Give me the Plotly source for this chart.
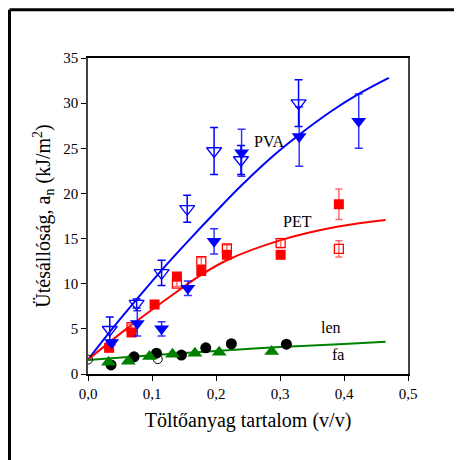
import plotly.graph_objects as go

# ---------------- data ----------------
# PVA, open down-triangles
pva_open_x = [0.034, 0.076, 0.115, 0.155, 0.197, 0.239, 0.329]
pva_open_y = [4.9, 7.8, 11.2, 18.3, 24.7, 23.7, 30.0]
pva_open_err = [1.4, 0.5, 1.4, 1.5, 2.6, 1.6, 2.6]
# PVA, filled down-triangles
pva_fill_x = [0.037, 0.077, 0.115, 0.156, 0.197, 0.240, 0.330, 0.423]
pva_fill_y = [3.5, 5.6, 5.0, 9.5, 14.7, 24.5, 26.3, 28.0]
pva_fill_err = [0.3, 1.4, 0.8, 0.8, 1.4, 2.6, 3.3, 3.0]
# PET, filled squares
pet_fill_x = [0.033, 0.068, 0.104, 0.139, 0.177, 0.217, 0.301, 0.392]
pet_fill_y = [2.9, 4.6, 7.7, 10.8, 11.4, 13.2, 13.2, 18.8]
pet_fill_err = [0.3, 0.3, 0.3, 0.3, 0.3, 0.3, 0.3, 1.7]
# PET, open squares
pet_open_x = [0.068, 0.139, 0.177, 0.217, 0.301, 0.392]
pet_open_y = [5.2, 10.0, 12.5, 13.9, 14.5, 13.85]
pet_open_err = [0.3, 0.3, 0.4, 0.4, 0.5, 0.9]
# black circles (filled)
circ_x = [0.036, 0.072, 0.107, 0.146, 0.184, 0.224, 0.310]
circ_y = [1.0, 1.9, 2.3, 2.1, 2.9, 3.35, 3.3]
# open black circles
ocirc_x = [0.0, 0.109]
ocirc_y = [1.6, 1.65]
# green up-triangles
tri_x = [0.032, 0.063, 0.096, 0.132, 0.167, 0.205, 0.287]
tri_y = [1.3, 1.4, 1.95, 2.2, 2.3, 2.4, 2.5]

# fitted curves
fit_pva_x = [0.0, 0.04, 0.08, 0.12, 0.16, 0.20, 0.24, 0.29, 0.33, 0.38, 0.425, 0.47]
fit_pva_y = [1.6, 5.2, 8.6, 11.9, 15.0, 18.0, 20.9, 24.2, 26.5, 29.1, 31.1, 32.8]
fit_pet_x = [0.0, 0.06, 0.123, 0.175, 0.217, 0.30, 0.389, 0.465]
fit_pet_y = [1.6, 5.0, 8.3, 10.9, 12.6, 14.8, 16.3, 17.05]
fit_green_x = [0.0, 0.1, 0.2, 0.3, 0.4, 0.465]
fit_green_y = [1.56, 2.08, 2.56, 2.98, 3.33, 3.58]

labels = ["PVA", "PET", "len", "fa"]
label_x = [0.283, 0.328, 0.380, 0.390]
label_y = [25.8, 16.9, 5.1, 2.2]

x_tick_vals = [0.0, 0.1, 0.2, 0.3, 0.4, 0.5]
y_tick_vals = [0, 5, 10, 15, 20, 25, 30, 35]

FONT = "Liberation Serif, Times New Roman, serif"
BLUE = "#0000ff"
RED = "#ff0000"
GREEN = "#008000"

fig = go.Figure()

# fit lines
fig.add_trace(go.Scatter(x=fit_pva_x, y=fit_pva_y, mode="lines",
                         line=dict(color=BLUE, width=2, shape="spline")))
fig.add_trace(go.Scatter(x=fit_pet_x, y=fit_pet_y, mode="lines",
                         line=dict(color=RED, width=2, shape="spline")))
fig.add_trace(go.Scatter(x=fit_green_x, y=fit_green_y, mode="lines",
                         line=dict(color=GREEN, width=2, shape="spline")))

# PET
fig.add_trace(go.Scatter(x=pet_open_x, y=pet_open_y, mode="markers",
                         marker=dict(symbol="square-open", size=9, color=RED,
                                     line=dict(width=1.3, color=RED)),
                         error_y=dict(type="data", array=pet_open_err, color="rgba(255,60,60,0.75)",
                                      thickness=1.5, width=3.5)))
fig.add_trace(go.Scatter(x=pet_fill_x, y=pet_fill_y, mode="markers",
                         marker=dict(symbol="square", size=10, color=RED),
                         error_y=dict(type="data", array=pet_fill_err, color="rgba(255,60,60,0.75)",
                                      thickness=1.5, width=3.5)))
# PVA
fig.add_trace(go.Scatter(x=pva_open_x, y=pva_open_y, mode="markers",
                         marker=dict(symbol="triangle-down-open", size=13, color=BLUE,
                                     line=dict(width=1.3, color=BLUE)),
                         error_y=dict(type="data", array=pva_open_err, color=BLUE,
                                      thickness=1.5, width=4)))
fig.add_trace(go.Scatter(x=pva_fill_x, y=pva_fill_y, mode="markers",
                         marker=dict(symbol="triangle-down", size=13, color=BLUE),
                         error_y=dict(type="data", array=pva_fill_err, color="rgba(0,0,255,0.8)",
                                      thickness=1.5, width=4)))
# black circles and green triangles
fig.add_trace(go.Scatter(x=circ_x, y=circ_y, mode="markers",
                         marker=dict(symbol="circle", size=11, color="black")))
fig.add_trace(go.Scatter(x=ocirc_x, y=ocirc_y, mode="markers",
                         marker=dict(symbol="circle-open", size=9, color="black",
                                     line=dict(width=1, color="black"))))
fig.add_trace(go.Scatter(x=tri_x, y=tri_y, mode="markers",
                         marker=dict(symbol="triangle-up", size=13, color=GREEN)))

for t, lx, ly in zip(labels, label_x, label_y):
    fig.add_annotation(x=lx, y=ly, text=t, showarrow=False,
                       font=dict(family=FONT, size=16, color="black"))

# outer frame (left and top edges visible in the reference)
fig.add_shape(type="line", xref="paper", yref="paper", x0=-0.2453, x1=-0.2453, y0=-0.32, y1=1.153,
              line=dict(color="black", width=3))
fig.add_shape(type="line", xref="paper", yref="paper", x0=-0.2453, x1=1.25, y0=1.153, y1=1.153,
              line=dict(color="black", width=3))

fig.update_layout(
    width=462, height=460,
    margin=dict(l=80, r=62, t=50, b=94),
    paper_bgcolor="white", plot_bgcolor="white",
    showlegend=False,
    separators=", ",
    font=dict(family=FONT, size=15, color="black"),
)
fig.update_xaxes(range=[0, 0.5], tickvals=x_tick_vals, tickformat=".1f",
                 ticks="outside", ticklen=5, tickwidth=1, tickcolor="black",
                 showline=True, linecolor="black", linewidth=1.5, mirror=True,
                 showgrid=False, zeroline=False,
                 title=dict(text="Töltőanyag tartalom (v/v)", font=dict(family=FONT, size=20), standoff=12),
                 tickfont=dict(family=FONT, size=15))
fig.update_yaxes(range=[0, 35], tickvals=y_tick_vals,
                 ticks="outside", ticklen=5, tickwidth=1, tickcolor="black",
                 showline=True, linecolor="#444444", linewidth=1.5, mirror=True,
                 showgrid=False, zeroline=False,
                 title=dict(text="Ütésállóság, a<sub>n</sub> (kJ/m<sup>2</sup>)",
                            font=dict(family=FONT, size=20), standoff=7),
                 tickfont=dict(family=FONT, size=15))

fig.write_html("out.html")
